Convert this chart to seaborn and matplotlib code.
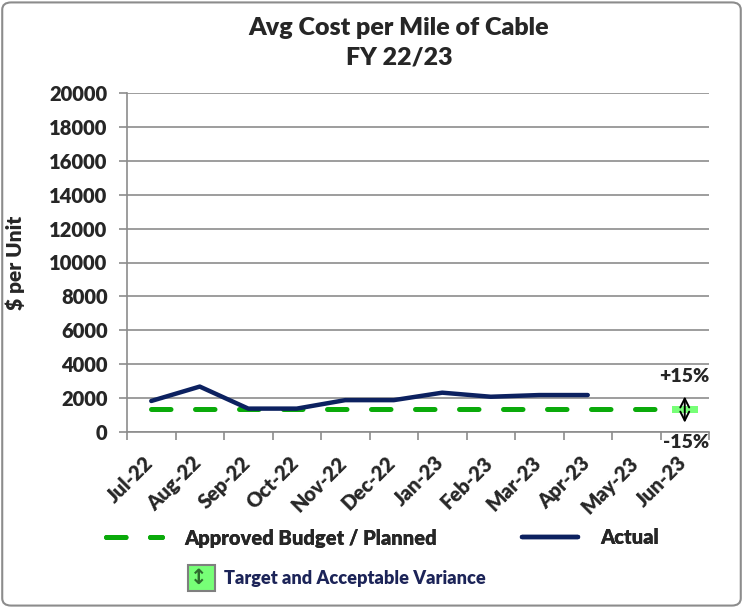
import numpy as np
import pandas as pd
import matplotlib
matplotlib.use("Agg")
import matplotlib.pyplot as plt
import matplotlib.transforms as mtransforms
import seaborn as sns
from matplotlib.lines import Line2D
from matplotlib.patches import Patch, FancyBboxPatch

# ---- data ----
months = ["Jul-22", "Aug-22", "Sep-22", "Oct-22", "Nov-22", "Dec-22",
          "Jan-23", "Feb-23", "Mar-23", "Apr-23", "May-23", "Jun-23"]
budget = [1350, 1350, 1350, 1350, 1350, 1350, 1350, 1350, 1350, 1350, 1350, 1350]
actual = [1830, 2680, 1380, 1380, 1880, 1880, 2320, 2080, 2180, 2180]
variance_pct = 0.15
yticks = [0, 2000, 4000, 6000, 8000, 10000, 12000, 14000, 16000, 18000, 20000]

GREEN = "#0AAA0A"
NAVY = "#0C2160"
LIGHT = "#77FF77"
GRID = "#8C8C8C"
W = "heavy"

sns.set_style("white")
plt.rcParams['font.family'] = ['Lato', 'DejaVu Sans']
plt.rcParams['font.weight'] = W

fig = plt.figure(figsize=(7.43, 6.08), dpi=100)
ax = fig.add_axes([127 / 743, 1 - 432 / 608, 582 / 743, 339 / 608])

df_b = pd.DataFrame({"pos": np.arange(len(months)), "value": budget})
df_a = pd.DataFrame({"pos": np.arange(len(actual)), "value": actual})

sns.lineplot(data=df_b, x="pos", y="value", ax=ax, color=GREEN, lw=3.6,
             sort=False, zorder=3)
bl = ax.lines[-1]
bl.set_dashes((3.9, 4.9))
bl.set_dash_capstyle("round")
sns.lineplot(data=df_a, x="pos", y="value", ax=ax, color=NAVY, lw=3.2,
             sort=False, zorder=4)
ax.lines[-1].set_solid_capstyle("round")

# variance band at the last month
last = len(months) - 1
target = budget[last]
ax.bar([last], [2 * variance_pct * target], bottom=target * (1 - variance_pct),
       width=0.54, color=LIGHT, zorder=5, linewidth=0)
ax.annotate("", xy=(last, 2100), xytext=(last, 550),
            arrowprops=dict(arrowstyle="<->", color="black", lw=1.4,
                            mutation_scale=16, shrinkA=0, shrinkB=0),
            zorder=6)
ax.text(len(months) - 0.5, 3300, "+15%", ha="right", va="center",
        fontsize=14, fontweight=W, clip_on=False)
ax.text(len(months) - 0.5, -600, "-15%", ha="right", va="center",
        fontsize=14, fontweight=W, clip_on=False)

# axes styling
ax.set_xlim(-0.5, len(months) - 0.5)
ax.set_ylim(0, 20000)
ax.set_yticks(yticks)
ax.set_yticklabels([str(v) for v in yticks], fontsize=14.5, fontweight=W)
ax.set_xticks(np.arange(len(months)))
ax.set_xticklabels(months, rotation=45, ha="right", rotation_mode="anchor",
                   fontsize=14.5, fontweight=W)
ax.set_xticks(np.arange(len(months) + 1) - 0.5, minor=True)
ax.tick_params(axis="x", which="major", length=0, pad=15)
ax.tick_params(axis="x", which="minor", length=6, color=GRID, width=1.2,
               direction="out", bottom=True)
ax.tick_params(axis="y", length=6, color=GRID, width=1.2, direction="out",
               left=True, pad=8)
offset = mtransforms.ScaledTranslation(-8 / 100, 0, fig.dpi_scale_trans)
for lab in ax.get_xticklabels():
    lab.set_transform(lab.get_transform() + offset)
ax.grid(axis="y", color=GRID, lw=1.2)
ax.grid(axis="x", visible=False)
for s in ["top", "right"]:
    ax.spines[s].set_visible(False)
for s in ["left", "bottom"]:
    ax.spines[s].set_color(GRID)
    ax.spines[s].set_linewidth(1.2)
ax.set_xlabel("")
ax.set_ylabel("$ per Unit", fontsize=15, fontweight=W)
ax.yaxis.set_label_coords(-102 / 582, 0.5)

# titles
fig.text(399 / 743, 1 - 28 / 608, "Avg Cost per Mile of Cable", ha="center",
         va="center", fontsize=18, fontweight=W)
fig.text(399 / 743, 1 - 58 / 608, "FY 22/23", ha="center", va="center",
         fontsize=18, fontweight=W)

# legends
h1 = [Line2D([], [], color=GREEN, lw=3.6, dashes=(3.9, 4.9),
             dash_capstyle="round"),
      Line2D([], [], color=NAVY, lw=3.2, solid_capstyle="round")]
leg1 = fig.legend(h1, ["Approved Budget / Planned", "Actual"], ncol=2,
                  loc="center left", bbox_to_anchor=(96 / 743, 1 - 538 / 608),
                  frameon=False, borderpad=0, handlelength=2.8,
                  handletextpad=1.1, columnspacing=4.2,
                  prop=dict(size=14.5, weight=W))
h2 = [Patch(facecolor=LIGHT, edgecolor="#7F7F7F", lw=1.5)]
leg2 = fig.legend(h2, ["Target and Acceptable Variance"], loc="center left",
                  bbox_to_anchor=(179 / 743, 1 - 578 / 608), frameon=False,
                  borderpad=0, handlelength=1.5, handleheight=1.8,
                  handletextpad=0.5, prop=dict(size=13.1, weight=W),
                  labelcolor="#1C2458")
fig.add_artist(leg1)
fig.text(199 / 743, 1 - 578 / 608, "\u2195", ha="center", va="center",
         fontsize=15, color="#2E6B2E", family=["DejaVu Sans"], zorder=20)

# outer frame
fig.patches.append(FancyBboxPatch((0.003, 0.004), 0.994, 0.992,
                                  boxstyle="round,pad=0,rounding_size=0.012",
                                  transform=fig.transFigure, fill=False,
                                  edgecolor="#8C8C8C", lw=1.5))

fig.savefig("out.png", dpi=100)
